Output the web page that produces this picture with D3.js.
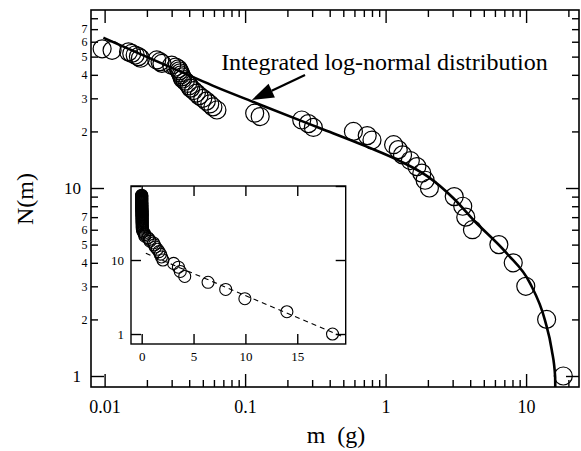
<!DOCTYPE html>
<html>
<head>
<meta charset="utf-8">
<script src="https://cdn.jsdelivr.net/npm/d3@7"></script>
<style>
body { margin: 0; background: #fff; }
text { font-family: "Liberation Serif", "Times New Roman", serif; fill: #000; }
</style>
</head>
<body>
<div id="chart"></div>
<script>
// fragment masses (g), largest first -> N(m) is the rank
const masses = [18.4, 14.0, 9.95, 8.1, 6.4, 4.15, 3.72, 3.54, 3.08, 2.05,
    1.91, 1.81, 1.67, 1.50, 1.32, 1.23, 1.14, 0.80, 0.74, 0.59,
    0.306, 0.282, 0.253, 0.128, 0.117, 0.063, 0.059, 0.056, 0.053, 0.050,
    0.047, 0.045, 0.043, 0.041, 0.040, 0.039, 0.0375, 0.036, 0.0355, 0.035,
    0.0345, 0.034, 0.0335, 0.032, 0.030, 0.0256, 0.0248, 0.0235, 0.018, 0.0174,
    0.0165, 0.0156, 0.0148, 0.0113, 0.0096];
// tiny fragments, off the left of the main plot, only seen in the inset
const smallMasses = [0.0075, 0.007, 0.0065, 0.006, 0.0055, 0.005, 0.0045, 0.004, 0.0035, 0.003,
    0.0028, 0.0025, 0.0022, 0.002, 0.0018, 0.0015, 0.0012, 0.001, 0.0008, 0.0005];

// integrated log-normal curve
const curveM = [0.0098, 0.0217, 0.0478, 0.0611, 0.1146, 0.246, 0.342, 0.735, 1.27, 2.0,
    3.04, 4.22, 7.29, 10.68, 13.6, 15.23, 16.1, 16.13];
const curveN = [63, 48.5, 37.5, 34.6, 28.7, 22.9, 20.8, 16.6, 13.9, 11.5,
    8.82, 6.76, 4.49, 3.11, 1.99, 1.375, 0.99, 0.874];

// exponential fit in the inset
const dashM = [0.4, 19.38];
const dashN = [12.3, 0.92];

const xMajor = [0.01, 0.1, 1, 10];
const xLabels = ['0.01', '0.1', '1', '10'];
const yMajor = [1, 10];
const yMinorLabelled = [2, 3, 4, 5, 6, 7, 20, 30, 40, 50, 60, 70];
const insetXTicks = [0, 5, 10, 15];
const insetYTicks = [1, 10, 100];

const serif = '"Liberation Serif", "Times New Roman", serif';
const W = 581, H = 451;
const svg = d3.select('#chart').append('svg')
    .attr('width', W)
    .attr('height', H);

const x = d3.scaleLog().domain([0.008, 23.8]).range([91, 579]);
const y = d3.scaleLog().domain([0.874, 88.5]).range([387, 10]);

svg.append('clipPath').attr('id', 'clipMain')
    .append('rect')
    .attr('x', 91).attr('y', 10).attr('width', 488).attr('height', 377);

// ---- axes of the main plot
const xMinor = x.ticks().filter(v => v >= 0.01 && !xMajor.includes(v));
const yMinor = y.ticks().filter(v => v >= 1 && !yMajor.includes(+v.toPrecision(3)));

function styleAxis(g, size) {
    g.select('.domain').remove();
    g.selectAll('line').attr('stroke', '#000').attr('stroke-width', 1.4);
    g.attr('font-family', serif).attr('font-size', size);
    g.selectAll('text').attr('fill', '#000').style('font-family', serif);
}

svg.append('g').attr('transform', 'translate(0,387)')
    .call(d3.axisBottom(x).tickValues(xMajor).tickSize(-13).tickPadding(13)
        .tickFormat((d, i) => xLabels[i]))
    .call(g => styleAxis(g, 18));
svg.append('g').attr('transform', 'translate(0,387)')
    .call(d3.axisBottom(x).tickValues(xMinor).tickSize(-7).tickFormat(''))
    .call(g => styleAxis(g, 10));
svg.append('g').attr('transform', 'translate(0,10)')
    .call(d3.axisTop(x).tickValues(xMajor).tickSize(-13).tickFormat(''))
    .call(g => styleAxis(g, 10));
svg.append('g').attr('transform', 'translate(0,10)')
    .call(d3.axisTop(x).tickValues(xMinor).tickSize(-7).tickFormat(''))
    .call(g => styleAxis(g, 10));

svg.append('g').attr('transform', 'translate(91,0)')
    .call(d3.axisLeft(y).tickValues(yMajor).tickSize(-13).tickPadding(10)
        .tickFormat(d3.format('d')))
    .call(g => styleAxis(g, 17));
svg.append('g').attr('transform', 'translate(91,0)')
    .call(d3.axisLeft(y).tickValues(yMinor).tickSize(-7).tickPadding(3.5)
        .tickFormat(d => {
            const v = +d.toPrecision(3);
            return yMinorLabelled.includes(v) ? String(v >= 10 ? v / 10 : v) : '';
        }))
    .call(g => styleAxis(g, 12));
svg.append('g').attr('transform', 'translate(579,0)')
    .call(d3.axisRight(y).tickValues(yMajor).tickSize(-13).tickFormat(''))
    .call(g => styleAxis(g, 10));
svg.append('g').attr('transform', 'translate(579,0)')
    .call(d3.axisRight(y).tickValues(yMinor).tickSize(-7).tickFormat(''))
    .call(g => styleAxis(g, 10));

svg.append('rect')
    .attr('x', 91).attr('y', 10).attr('width', 488).attr('height', 377)
    .attr('fill', 'none').attr('stroke', '#000').attr('stroke-width', 1.6);

// axis titles
svg.append('text')
    .attr('x', 336).attr('y', 443)
    .attr('text-anchor', 'middle')
    .attr('font-size', 24)
    .style('white-space', 'pre')
    .text('m  (g)');
svg.append('text')
    .attr('transform', 'translate(33,199) rotate(-90)')
    .attr('text-anchor', 'middle')
    .attr('font-size', 24)
    .text('N(m)');

// ---- main data
const mainPts = masses.map((m, i) => ({m: m, n: i + 1}));
const plot = svg.append('g').attr('clip-path', 'url(#clipMain)');

const curveData = curveM.map((m, i) => ({m: m, n: curveN[i]}));
const lognLine = d3.line()
    .x(d => x(d.m))
    .y(d => y(d.n))
    .curve(d3.curveMonotoneX);

plot.append('path')
    .datum(curveData)
    .attr('fill', 'none')
    .attr('stroke', '#000')
    .attr('stroke-width', 2.6)
    .attr('d', lognLine);

plot.selectAll('circle.pt')
    .data(mainPts)
    .enter()
    .append('circle')
    .attr('class', 'pt')
    .attr('cx', d => x(d.m))
    .attr('cy', d => y(d.n))
    .attr('r', 9)
    .attr('fill', 'none')
    .attr('stroke', '#000')
    .attr('stroke-width', 1.2);

// annotation
const tip = [x(0.1116), y(29.4)];
const tail = [x(0.267), y(39.9)];
const dx = tip[0] - tail[0], dy = tip[1] - tail[1];
const len = Math.hypot(dx, dy);
const ux = dx / len, uy = dy / len;
const headL = 22, headW = 7.5;
const base = [tip[0] - ux * headL, tip[1] - uy * headL];
svg.append('line')
    .attr('x1', tail[0]).attr('y1', tail[1])
    .attr('x2', base[0]).attr('y2', base[1])
    .attr('stroke', '#000').attr('stroke-width', 2.2);
svg.append('path')
    .attr('d', d3.line()([
        tip,
        [base[0] - uy * headW, base[1] + ux * headW],
        [base[0] + uy * headW, base[1] - ux * headW]
    ]) + 'Z')
    .attr('fill', '#000');
svg.append('text')
    .attr('x', x(0.0675)).attr('y', y(42.4))
    .attr('font-size', 24)
    .text('Integrated log-normal distribution');

// ---- inset
const xi = d3.scaleLinear().domain([-1.03, 19.67]).range([131, 345.7]);
const yi = d3.scaleLog().domain([0.733, 100]).range([344, 186]);
const inset = svg.append('g');

inset.append('rect')
    .attr('x', 131).attr('y', 186).attr('width', 214.7).attr('height', 158)
    .attr('fill', '#fff');

inset.append('g').attr('transform', 'translate(0,344)')
    .call(d3.axisBottom(xi).tickValues(insetXTicks).tickSize(-10).tickPadding(8))
    .call(g => styleAxis(g, 13));
inset.append('g').attr('transform', 'translate(0,186)')
    .call(d3.axisTop(xi).tickValues(insetXTicks).tickSize(-10).tickFormat(''))
    .call(g => styleAxis(g, 10));
inset.append('g').attr('transform', 'translate(131,0)')
    .call(d3.axisLeft(yi).tickValues(insetYTicks).tickSize(-10).tickPadding(7)
        .tickFormat(d => d < 100 ? d3.format('d')(d) : ''))
    .call(g => styleAxis(g, 13));
inset.append('g').attr('transform', 'translate(345.7,0)')
    .call(d3.axisRight(yi).tickValues(insetYTicks).tickSize(-10).tickFormat(''))
    .call(g => styleAxis(g, 10));

const allPts = masses.concat(smallMasses).map((m, i) => ({m: m, n: i + 1}));
const dashData = dashM.map((m, i) => ({m: m, n: dashN[i]}));

inset.append('path')
    .datum(dashData)
    .attr('fill', 'none')
    .attr('stroke', '#000')
    .attr('stroke-width', 1.1)
    .attr('stroke-dasharray', '5,4')
    .attr('d', d3.line().x(d => xi(d.m)).y(d => yi(d.n)));

inset.selectAll('circle')
    .data(allPts)
    .enter()
    .append('circle')
    .attr('cx', d => xi(d.m))
    .attr('cy', d => yi(d.n))
    .attr('r', 6)
    .attr('fill', 'none')
    .attr('stroke', '#000')
    .attr('stroke-width', 1.1);

inset.append('rect')
    .attr('x', 131).attr('y', 186).attr('width', 214.7).attr('height', 158)
    .attr('fill', 'none').attr('stroke', '#000').attr('stroke-width', 1.4);
</script>
</body>
</html>
